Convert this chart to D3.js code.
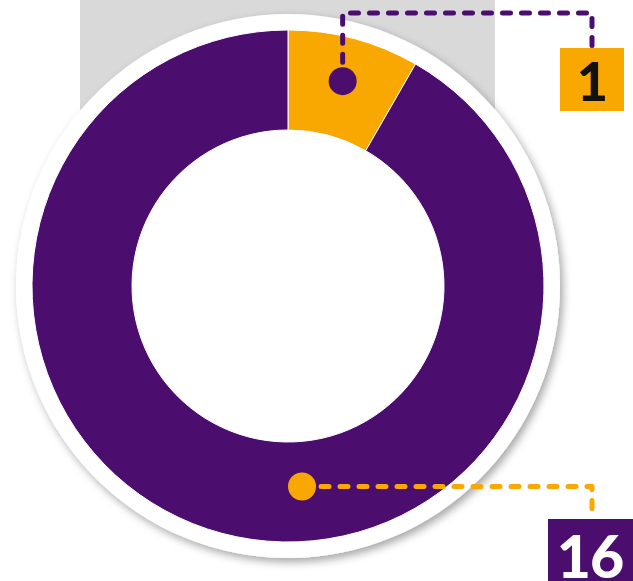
<!DOCTYPE html>
<html>
<head>
<meta charset="utf-8">
<script src="https://cdn.jsdelivr.net/npm/d3@7"></script>
<style>
  html, body { margin: 0; padding: 0; background: #fff; }
  svg { display: block; }
</style>
</head>
<body>
<div id="chart"></div>
<script>
// counts shown in the label boxes
var labels = ["1", "16"];
// share of the ring each slice covers (percent)
var shares = [8.3, 91.7];
var colors = ["#f8a800", "#4b0d6e"];
// leader dot colour is the other slice's colour
var dotColors = ["#4b0d6e", "#f8a800"];

var width = 633, height = 581;
var cx = 288, cy = 286;
var outerR = 256, innerR = 156, ringR = 272;

var svg = d3.select("#chart").append("svg")
  .attr("width", width)
  .attr("height", height);

var defs = svg.append("defs");
var shadow = defs.append("filter").attr("id", "shadow")
  .attr("x", "-20%").attr("y", "-20%").attr("width", "140%").attr("height", "140%");
shadow.append("feDropShadow")
  .attr("dx", 3).attr("dy", 4)
  .attr("stdDeviation", 4)
  .attr("flood-color", "#000")
  .attr("flood-opacity", 0.35);

// grey panel behind the ring
svg.append("rect")
  .attr("x", 80).attr("y", 0)
  .attr("width", 415).attr("height", 300)
  .attr("fill", "#d9d9d9");

var g = svg.append("g")
  .attr("transform", "translate(" + cx + "," + cy + ")");

// white ring with shadow
g.append("circle")
  .attr("r", ringR)
  .attr("fill", "#fff")
  .attr("filter", "url(#shadow)");

var pie = d3.pie().sort(null).value((d) => { return d; });
var arcs = pie(shares);
var arc = d3.arc().innerRadius(innerR).outerRadius(outerR);

g.selectAll("path.slice").data(arcs).enter()
  .append("path")
  .attr("class", "slice")
  .attr("d", arc)
  .attr("fill", (d, i) => { return colors[i]; })
  .attr("stroke", "#fff")
  .attr("stroke-width", 1);

// leader anchor points
var midR = (innerR + outerR) / 2 + 6;
var anchorAngles = [
  (arcs[0].startAngle + arcs[0].endAngle) / 2,
  176 * Math.PI / 180
];
var anchors = anchorAngles.map((a, i) => {
  var r = i === 0 ? midR : 201;
  return [cx + r * Math.sin(a), cy - r * Math.cos(a)];
});

var boxX = 592;
var leaders = [
  "M" + anchors[0][0] + "," + anchors[0][1] + "V13H" + boxX + "V48",
  "M" + anchors[1][0] + "," + anchors[1][1] + "H" + boxX + "V519"
];

svg.selectAll("path.leader").data(leaders).enter()
  .append("path")
  .attr("class", "leader")
  .attr("d", (d) => { return d; })
  .attr("fill", "none")
  .attr("stroke", (d, i) => { return dotColors[i]; })
  .attr("stroke-width", 5)
  .attr("stroke-linecap", "round")
  .attr("stroke-linejoin", "round")
  .attr("stroke-dasharray", "8 11");

svg.selectAll("circle.dot").data(anchors).enter()
  .append("circle")
  .attr("class", "dot")
  .attr("cx", (d) => { return d[0]; })
  .attr("cy", (d) => { return d[1]; })
  .attr("r", 14)
  .attr("fill", (d, i) => { return dotColors[i]; });

// label boxes
var boxes = [
  {x: 560, y: 48, w: 64, h: 63, fill: colors[0], text: "#111", tx: 592, ty: 101, size: 54},
  {x: 548, y: 519, w: 90, h: 70, fill: colors[1], text: "#fff", tx: 590, ty: 578, size: 59}
];

var lab = svg.selectAll("g.label").data(boxes).enter().append("g").attr("class", "label");
lab.append("rect")
  .attr("x", (d) => { return d.x; })
  .attr("y", (d) => { return d.y; })
  .attr("width", (d) => { return d.w; })
  .attr("height", (d) => { return d.h; })
  .attr("fill", (d) => { return d.fill; });
lab.append("text")
  .attr("x", (d) => { return d.tx; })
  .attr("y", (d) => { return d.ty; })
  .attr("text-anchor", "middle")
  .attr("font-family", "Lato, 'DejaVu Sans', sans-serif")
  .attr("font-weight", 900)
  .attr("font-size", (d) => { return d.size + "px"; })
  .attr("letter-spacing", "-1px")
  .attr("fill", (d) => { return d.text; })
  .text((d, i) => { return labels[i]; });
</script>
</body>
</html>
